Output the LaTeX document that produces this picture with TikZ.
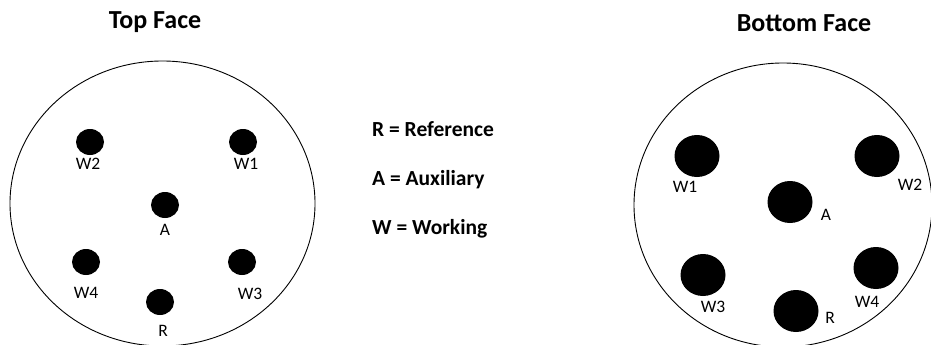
\documentclass[tikz,border=0pt]{standalone}
\usepackage{fontspec}
\setmainfont{Carlito}
\usetikzlibrary{shapes.geometric}
\tikzset{
  face/.style={draw=black, line width=0.9pt},
  smallhole/.style={ellipse, fill=black, minimum width=28pt, minimum height=26pt, inner sep=0pt},
  bighole/.style={ellipse, fill=black, minimum width=45pt, minimum height=42pt, inner sep=0pt},
  tag/.style={font=\fontsize{17.5}{17.5}\selectfont, inner sep=0pt},
  heading/.style={font=\fontsize{26}{26}\selectfont\bfseries, inner sep=0pt},
  legend/.style={font=\fontsize{21.5}{21.5}\selectfont\bfseries, inner sep=0pt, anchor=west}
}
\begin{document}
\begin{tikzpicture}[x=1pt, y=-1pt]
  \useasboundingbox (0,0) rectangle (931,345);
  \begin{scope}
    \clip (0,0) rectangle (931,345);

    % top face
    \node[heading] (toptitle) at (155,22) {Top Face};
    \draw[face] (162.5,203.5) ellipse [x radius=152.5, y radius=142.5];
    \node[smallhole] (tw2) at (90,142) {};
    \node[smallhole] (tw1) at (243,142) {};
    \node[smallhole] (ta) at (165,205) {};
    \node[smallhole] (tw4) at (86,262) {};
    \node[smallhole] (tw3) at (242,262) {};
    \node[smallhole] (tr) at (160,302) {};
    \node[tag] (tw2l) at (88,164) {W2};
    \node[tag] (tw1l) at (246,164) {W1};
    \node[tag] (tal) at (165,230) {A};
    \node[tag] (tw4l) at (86,293) {W4};
    \node[tag] (tw3l) at (250,294) {W3};
    \node[tag] (trl) at (163,331) {R};

    % legend
    \node[legend] (lr) at (372,129) {R = Reference};
    \node[legend] (la) at (372,180) {A = Auxiliary};
    \node[legend] (lw) at (372,229) {W = Working};

    % bottom face
    \node[heading] (bottomtitle) at (804,23) {Bottom Face};
    \draw[face] (783,205) ellipse [x radius=149, y radius=142];
    \node[bighole] (bw1) at (697,156) {};
    \node[bighole] (bw2) at (877,156) {};
    \node[bighole] (ba) at (790,202) {};
    \node[bighole] (bw3) at (703,275) {};
    \node[bighole] (bw4) at (876,268) {};
    \node[bighole] (br) at (796,311) {};
    \node[tag] (bw1l) at (685,187) {W1};
    \node[tag] (bw2l) at (910,185) {W2};
    \node[tag] (bal) at (826,215) {A};
    \node[tag] (bw3l) at (713,307) {W3};
    \node[tag] (bw4l) at (867,302) {W4};
    \node[tag] (brl) at (830,318) {R};
  \end{scope}
\end{tikzpicture}
\end{document}
